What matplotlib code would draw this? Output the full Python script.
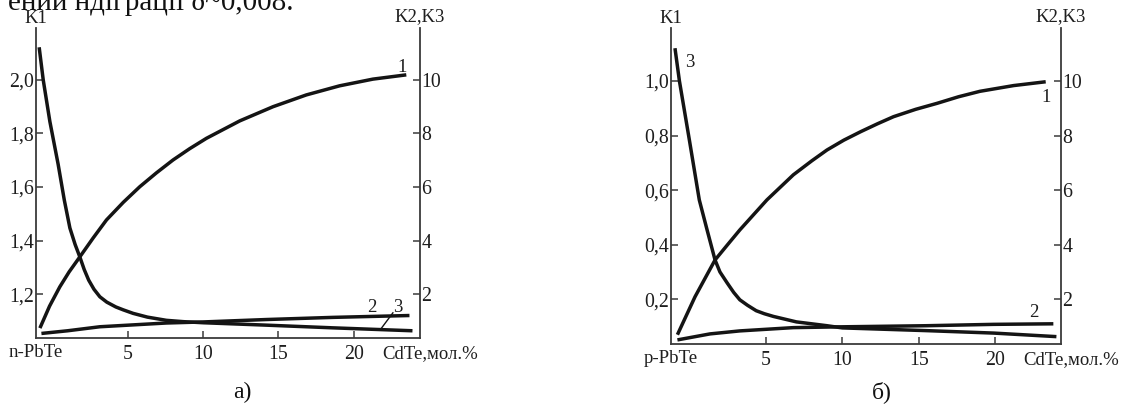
import matplotlib.pyplot as plt

plt.rcParams['font.family'] = ['Liberation Serif', 'DejaVu Serif']

# --- a) n-PbTe ---
a1_x = [-0.84, -0.2, 0.48, 1.1, 1.81, 2.7, 3.58, 4.7, 5.79, 6.9, 8.0, 9.1, 10.22,
        12.43, 14.64, 16.85, 19.06, 21.27, 23.49]
a1_k = [1.073, 1.155, 1.227, 1.283, 1.339, 1.410, 1.477, 1.543, 1.601, 1.653, 1.701, 1.743, 1.782,
        1.847, 1.900, 1.944, 1.978, 2.003, 2.019]

a2_x = [-0.74, 1.0, 3.14, 5.35, 7.56, 10.0, 14.2, 18.6, 23.7]
a2_k = [0.53, 0.63, 0.78, 0.85, 0.92, 0.96, 1.05, 1.13, 1.2]

a3_x = [-0.89, -0.62, -0.18, 0.37, 0.78, 1.15, 1.5, 1.81, 2.1, 2.4, 2.75, 3.14, 3.6, 4.2,
        4.7, 5.35, 6.3, 7.56, 8.7, 10.0, 14.2, 18.6, 23.9]
a3_k = [11.22, 10.0, 8.45, 6.85, 5.51, 4.47, 3.85, 3.39, 2.92, 2.52, 2.18, 1.9, 1.7, 1.52,
        1.41, 1.28, 1.14, 1.02, 0.97, 0.93, 0.84, 0.74, 0.63]

# --- б) p-PbTe ---
b1_x = [-0.78, 0.37, 1.68, 2.5, 3.3, 4.2, 5.07, 6.8, 8.0, 9.0, 10.1, 11.2, 12.3, 13.35,
        14.8, 16.2, 17.6, 19.0, 21.2, 23.3]
b1_k = [0.070, 0.209, 0.344, 0.400, 0.454, 0.510, 0.564, 0.656, 0.707, 0.747, 0.783, 0.814,
        0.843, 0.869, 0.896, 0.918, 0.942, 0.962, 0.983, 0.997]

b2_x = [-0.78, 1.35, 3.3, 6.8, 10.0, 15.5, 19.9, 23.8]
b2_k = [0.51, 0.73, 0.84, 0.96, 0.99, 1.03, 1.08, 1.1]

b3_x = [-0.94, -0.65, 0.0, 0.65, 1.16, 1.68, 2.0, 2.47, 2.9, 3.3, 3.8, 4.37, 4.9, 5.5,
        7.0, 9.0, 10.0, 15.5, 19.9, 24.0]
b3_k = [11.2, 10.0, 7.84, 5.64, 4.54, 3.44, 3.0, 2.6, 2.25, 1.98, 1.78, 1.58, 1.47, 1.37,
        1.17, 1.03, 0.95, 0.85, 0.76, 0.63]

x_ticks = [5, 10, 15, 20]
right_ticks = [2, 4, 6, 8, 10]
a_left_ticks = [1.2, 1.4, 1.6, 1.8, 2.0]
a_left_labels = ['1,2', '1,4', '1,6', '1,8', '2,0']
b_left_ticks = [0.2, 0.4, 0.6, 0.8, 1.0]
b_left_labels = ['0,2', '0,4', '0,6', '0,8', '1,0']

INK = '#141414'
AXC = '#3a3a3a'
TXT = '#1e1e1e'
FS = 13.5
TFS = 14.3


def curve(ax, x, y):
    ax.plot(x, y, color=INK, lw=2.5, solid_capstyle='butt', solid_joinstyle='round')


def panel(ax, x1, k1, x2, k2, x3, k3, xlim, ylim, yticks, ylabels, start_label):
    ax2 = ax.twinx()
    curve(ax, x1, k1)
    curve(ax2, x2, k2)
    curve(ax2, x3, k3)

    ax.set_xlim(*xlim)
    ax.set_ylim(*ylim)
    ax2.set_ylim(0.36, 11.94)

    for s in ['top', 'right']:
        ax.spines[s].set_visible(False)
    for s in ['top', 'left', 'bottom']:
        ax2.spines[s].set_visible(False)
    for s in ['left', 'bottom']:
        ax.spines[s].set_color(AXC)
        ax.spines[s].set_linewidth(1.3)
    ax2.spines['right'].set_color(AXC)
    ax2.spines['right'].set_linewidth(1.3)

    ax.set_xticks(x_ticks)
    ax.set_xticklabels([str(t) for t in x_ticks])
    ax.set_yticks(yticks)
    ax.set_yticklabels(ylabels)
    ax2.set_yticks(right_ticks)
    ax2.set_yticklabels([str(t) for t in right_ticks])

    ax.tick_params(axis='x', direction='in', length=5, width=1.1, color=AXC,
                   pad=5, labelsize=TFS, labelcolor=TXT)
    ax.tick_params(axis='y', direction='in', length=5, width=1.1, color=AXC,
                   pad=1.5, labelsize=TFS, labelcolor=TXT)
    ax2.tick_params(axis='y', direction='in', length=5, width=1.1, color=AXC,
                    pad=1.0, labelsize=TFS, labelcolor=TXT)

    ax.annotate('K1', xy=(0, 1), xycoords='axes fraction', xytext=(0, 7),
                textcoords='offset points', ha='center', va='center',
                fontsize=FS, color=TXT)
    ax.annotate('K2,K3', xy=(1, 1), xycoords='axes fraction', xytext=(0, 8),
                textcoords='offset points', ha='center', va='center',
                fontsize=FS, color=TXT)
    ax.annotate(start_label, xy=(0, 0), xycoords='axes fraction', xytext=(0, -10.5),
                textcoords='offset points', ha='center', va='center',
                fontsize=FS, color=TXT)
    ax.annotate('CdTe,мол.%', xy=(1, 0), xycoords='axes fraction', xytext=(-27, -11.5),
                textcoords='offset points', ha='left', va='center',
                fontsize=FS, color=TXT)
    return ax2


fig = plt.figure(figsize=(11.26, 4.05), dpi=100)
fig.patch.set_facecolor('white')

ax_a = fig.add_axes([36 / 1126, 67 / 405, 384 / 1126, 310 / 405])
ax_b = fig.add_axes([671 / 1126, 61 / 405, 390 / 1126, 316 / 405])

panel(ax_a, a1_x, a1_k, a2_x, a2_k, a3_x, a3_k, (-1.1, 24.4), (1.036, 2.194),
      a_left_ticks, a_left_labels, 'n-PbTe')
panel(ax_b, b1_x, b1_k, b2_x, b2_k, b3_x, b3_k, (-1.2, 24.3), (0.036, 1.194),
      b_left_ticks, b_left_labels, 'p-PbTe')

# curve numbers, panel a
ax_a.text(23.2, 2.045, '1', fontsize=FS, ha='center', va='center', color=TXT)
ax_a.text(21.2, 1.151, '2', fontsize=FS, ha='center', va='center', color=TXT)
ax_a.text(22.9, 1.151, '3', fontsize=FS, ha='center', va='center', color=TXT)
ax_a.plot([22.6, 21.83], [1.130, 1.072], color=INK, lw=1.0)

# curve numbers, panel b
ax_b.text(23.35, 0.941, '1', fontsize=FS, ha='center', va='center', color=TXT)
ax_b.text(0.05, 1.066, '3', fontsize=FS, ha='center', va='center', color=TXT)
ax_b.text(22.5, 0.150, '2', fontsize=FS, ha='center', va='center', color=TXT)

fig.text(242 / 1126, 13 / 405, 'а)', fontsize=17, ha='center', va='center', color='#111')
fig.text(882 / 1126, 13 / 405, 'б)', fontsize=17, ha='center', va='center', color='#111')

# end of the preceding line of text, cut by the top edge
fig.text(293 / 1126, (405 - 9.5) / 405, 'ении ндіграції δ~0,008.', fontsize=21,
         ha='right', va='baseline', color='#111')

fig.savefig('out.png', dpi=100, facecolor='white')
